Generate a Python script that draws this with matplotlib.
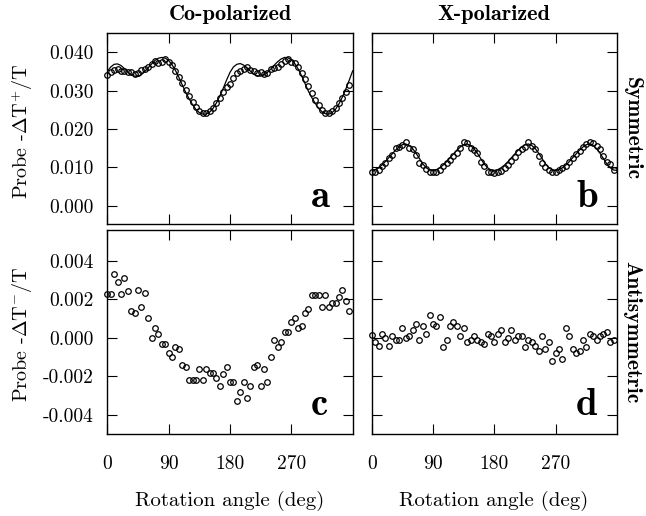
import numpy as np
import matplotlib
matplotlib.use('Agg')
import matplotlib.pyplot as plt
from matplotlib.ticker import FormatStrFormatter

plt.rcParams['font.family'] = 'cmr10'
plt.rcParams['mathtext.fontset'] = 'cm'
plt.rcParams['axes.unicode_minus'] = False

# rotation angles of the measured points (deg) and of the fit curves
angle = np.arange(0, 360, 5)
angle_fit = np.arange(0, 365, 5)

# a: co-polarized, symmetric
sym_co = [0.0342, 0.0349, 0.0354, 0.0357, 0.0352, 0.0352, 0.0348, 0.0349, 0.0345, 0.0346,
          0.0355, 0.0358, 0.0361, 0.0369, 0.0377, 0.0372, 0.0376, 0.0382, 0.0376, 0.0366,
          0.0352, 0.0337, 0.0320, 0.0302, 0.0285, 0.0270, 0.0257, 0.0247, 0.0241, 0.0241,
          0.0246, 0.0256, 0.0268, 0.0282, 0.0296, 0.0309,
          0.0318, 0.0333, 0.0346, 0.0352, 0.0357, 0.0361, 0.0353, 0.0351, 0.0347, 0.0348,
          0.0344, 0.0347, 0.0356, 0.0359, 0.0362, 0.0370, 0.0377, 0.0382, 0.0376, 0.0372,
          0.0362, 0.0347, 0.0330, 0.0312, 0.0294, 0.0277, 0.0262, 0.0250, 0.0242, 0.0241,
          0.0246, 0.0256, 0.0268, 0.0282, 0.0298, 0.0315]
sym_co_fit = [0.0350, 0.0362, 0.0369, 0.0370, 0.0366, 0.0358, 0.0349, 0.0342, 0.0338, 0.0338,
              0.0342, 0.0350, 0.0360, 0.0370, 0.0379, 0.0385, 0.0387, 0.0385, 0.0379, 0.0368,
              0.0353, 0.0335, 0.0315, 0.0296, 0.0279, 0.0264, 0.0251, 0.0243, 0.0239, 0.0239,
              0.0244, 0.0254, 0.0268, 0.0286, 0.0306, 0.0328, 0.0348,
              0.0362, 0.0369, 0.0371, 0.0367, 0.0360, 0.0351, 0.0343, 0.0339, 0.0338, 0.0341,
              0.0348, 0.0357, 0.0367, 0.0376, 0.0383, 0.0387, 0.0386, 0.0381, 0.0371, 0.0357,
              0.0339, 0.0319, 0.0299, 0.0282, 0.0267, 0.0254, 0.0245, 0.0240, 0.0239, 0.0243,
              0.0252, 0.0266, 0.0284, 0.0305, 0.0328, 0.0352]

# b: cross-polarized, symmetric
sym_x = [0.0088, 0.0089, 0.0092, 0.0104, 0.0111, 0.0124, 0.0132, 0.0150, 0.0154, 0.0158,
         0.0167, 0.0150, 0.0147, 0.0132, 0.0112, 0.0106, 0.0095, 0.0089,
         0.0088, 0.0089, 0.0093, 0.0104, 0.0111, 0.0120, 0.0130, 0.0137, 0.0150, 0.0167,
         0.0163, 0.0150, 0.0146, 0.0137, 0.0115, 0.0104, 0.0089, 0.0087,
         0.0085, 0.0087, 0.0091, 0.0098, 0.0107, 0.0117, 0.0128, 0.0140, 0.0148, 0.0154,
         0.0167, 0.0155, 0.0148, 0.0130, 0.0112, 0.0100, 0.0092, 0.0089,
         0.0089, 0.0092, 0.0098, 0.0104, 0.0115, 0.0124, 0.0135, 0.0143, 0.0154, 0.0162,
         0.0167, 0.0164, 0.0155, 0.0147, 0.0130, 0.0115, 0.0108, 0.0092]
sym_x_fit = [0.0092, 0.0094, 0.0099, 0.0106, 0.0115, 0.0125, 0.0135, 0.0145, 0.0153, 0.0159,
             0.0161, 0.0157, 0.0149, 0.0137, 0.0123, 0.0109, 0.0099, 0.0093,
             0.0092, 0.0094, 0.0099, 0.0106, 0.0115, 0.0125, 0.0135, 0.0145, 0.0153, 0.0159,
             0.0161, 0.0157, 0.0149, 0.0137, 0.0123, 0.0109, 0.0099, 0.0093,
             0.0092, 0.0094, 0.0099, 0.0106, 0.0115, 0.0125, 0.0135, 0.0145, 0.0153, 0.0159,
             0.0161, 0.0157, 0.0149, 0.0137, 0.0123, 0.0109, 0.0099, 0.0093,
             0.0092, 0.0094, 0.0099, 0.0106, 0.0115, 0.0125, 0.0135, 0.0145, 0.0153, 0.0159,
             0.0161, 0.0157, 0.0149, 0.0137, 0.0123, 0.0109, 0.0099, 0.0093, 0.0092]

# c: co-polarized, antisymmetric
anti_co = [0.00225, 0.00225, 0.0033, 0.0029, 0.00225, 0.0031, 0.0024, 0.0014, 0.0013, 0.0025,
           0.0016, 0.0023, 0.0010, 0.0000, 0.0005, 0.0002, -0.0003, -0.0003, -0.0008, -0.0010,
           -0.0005, -0.0006, -0.0014, -0.0015, -0.0022, -0.0022, -0.0022, -0.0016, -0.0022, -0.0016,
           -0.0018, -0.0018, -0.0021, -0.0025, -0.0019, -0.0015, -0.0023, -0.0023, -0.0033, -0.0028,
           -0.0023, -0.0031, -0.0025, -0.0015, -0.0014, -0.0025, -0.0016, -0.0023, -0.0010, -0.0001,
           -0.0005, -0.0002, 0.0003, 0.0003, 0.0008, 0.0010, 0.0005, 0.0006, 0.0013, 0.0015,
           0.0022, 0.0022, 0.0022, 0.0016, 0.0022, 0.0016, 0.0018, 0.0018, 0.0021, 0.0025,
           0.0019, 0.0014]

# d: cross-polarized, antisymmetric
anti_x = [0.00017, -0.0002, -0.0004, 0.0002, 0.0000, -0.0004, 0.0001, -0.0001, -0.0001, 0.0005,
          0.0000, 0.0001, 0.0004, 0.0007, -0.0001, 0.0006, 0.0002, 0.0012, 0.0007, 0.0006,
          0.0011, -0.0005, -0.0001, 0.0006, 0.0008, 0.0006, 0.0001, 0.0005, -0.0002, -0.0001,
          0.0001, -0.0001, -0.0002, -0.0003, 0.0002, 0.0001, -0.0002, 0.0002, 0.0004, -0.0002,
          0.0000, 0.0004, -0.0001, 0.0001, 0.0001, -0.0005, -0.0001, -0.0002, -0.0004, -0.0007,
          0.0001, -0.0006, -0.0002, -0.0012, -0.0008, -0.0006, -0.0011, 0.0005, 0.0001, -0.0006,
          -0.0008, -0.0007, -0.0001, -0.0005, 0.0002, 0.0001, -0.0001, 0.0001, 0.0002, 0.0003,
          -0.0002, -0.0001]

x_ticks = [0, 90, 180, 270]
top_ticks = [0.000, 0.010, 0.020, 0.030, 0.040]
bottom_ticks = [-0.004, -0.002, 0.000, 0.002, 0.004]

W, H = 646, 516
fig = plt.figure(figsize=(W / 100, H / 100), dpi=100)


def box(x0, y0, x1, y1):
    return [x0 / W, 1 - y1 / H, (x1 - x0) / W, (y1 - y0) / H]


ax_a = fig.add_axes(box(107.3, 33.3, 352.7, 224))
ax_b = fig.add_axes(box(371.7, 33.3, 617, 224))
ax_c = fig.add_axes(box(107.3, 229.7, 352.7, 434.3))
ax_d = fig.add_axes(box(371.7, 229.7, 617, 434.3))

mk = dict(ls='none', marker='o', mfc='none', mec='black', ms=4.0, mew=0.9, clip_on=False, zorder=3)

ax_a.plot(angle_fit, sym_co_fit, color='black', lw=0.9)
ax_a.plot(angle, sym_co, **mk)
ax_b.plot(angle_fit, sym_x_fit, color='black', lw=0.9)
ax_b.plot(angle, sym_x, **mk)
ax_c.plot(angle, anti_co, **mk)
ax_d.plot(angle, anti_x, **mk)

for ax in (ax_a, ax_b, ax_c, ax_d):
    ax.set_xlim(0, 360)
    ax.set_xticks(x_ticks)
    ax.tick_params(direction='in', top=True, right=True, length=7, width=0.8,
                   labelsize=14, pad=10)
    ax.tick_params(axis='x', pad=15)
    for s in ax.spines.values():
        s.set_linewidth(1.0)

for ax in (ax_a, ax_b):
    ax.set_ylim(-0.0048, 0.045)
    ax.set_yticks(top_ticks)
    ax.tick_params(labelbottom=False)
for ax in (ax_c, ax_d):
    ax.set_ylim(-0.0050, 0.0056)
    ax.set_yticks(bottom_ticks)
for ax in (ax_b, ax_d):
    ax.tick_params(labelleft=False)
for ax in (ax_a, ax_c):
    ax.yaxis.set_major_formatter(FormatStrFormatter('%.3f'))

letters = [(ax_a, 'a', 0.907, 0.089), (ax_b, 'b', 0.922, 0.089),
           (ax_c, 'c', 0.900, 0.094), (ax_d, 'd', 0.918, 0.094)]
for ax, t, x, y in letters:
    ax.text(x, y, t, transform=ax.transAxes, ha='right', va='baseline',
            fontfamily='cmb10', fontsize=28)

fig.text(230 / W, 1 - 14 / H, 'Co-polarized', ha='center', va='center', fontfamily='cmb10', fontsize=16)
fig.text(494 / W, 1 - 14 / H, 'X-polarized', ha='center', va='center', fontfamily='cmb10', fontsize=16)
fig.text(632 / W, 1 - 129 / H, 'Symmetric', ha='center', va='center', rotation=270,
         fontfamily='cmb10', fontsize=15.5)
fig.text(632 / W, 1 - 332 / H, 'Antisymmetric', ha='center', va='center', rotation=270,
         fontfamily='cmb10', fontsize=15.5)
fig.text(22 / W, 1 - 131 / H, r'Probe -$\Delta\mathrm{T}^{+}$/T', ha='center', va='center',
         rotation=90, fontsize=14.5)
fig.text(22 / W, 1 - 334 / H, r'Probe -$\Delta\mathrm{T}^{-}$/T', ha='center', va='center',
         rotation=90, fontsize=14.5)
fig.text(230 / W, 1 - 501 / H, 'Rotation angle (deg)', ha='center', va='center', fontsize=15)
fig.text(494 / W, 1 - 501 / H, 'Rotation angle (deg)', ha='center', va='center', fontsize=15)

fig.savefig('out.png', dpi=100)
